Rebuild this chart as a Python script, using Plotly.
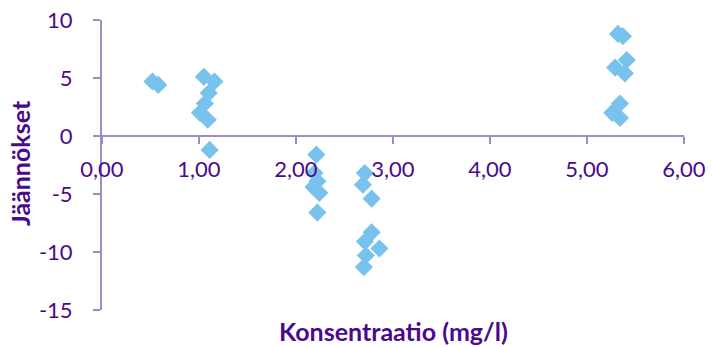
import plotly.graph_objects as go

# Residuals against concentration
konsentraatio = [0.52, 0.58,
                 1.05, 1.16, 1.10, 1.06, 1.01, 1.09, 1.11,
                 2.21, 2.19, 2.22, 2.18, 2.24, 2.22,
                 2.71, 2.69, 2.78, 2.78, 2.71, 2.86, 2.72, 2.70,
                 5.32, 5.37, 5.41, 5.29, 5.39, 5.34, 5.26, 5.34]
jaannokset = [4.7, 4.4,
              5.1, 4.7, 3.7, 2.8, 2.0, 1.4, -1.2,
              -1.6, -3.2, -3.9, -4.4, -4.9, -6.6,
              -3.2, -4.2, -5.4, -8.3, -9.1, -9.7, -10.3, -11.3,
              8.8, 8.6, 6.55, 5.9, 5.4, 2.8, 2.0, 1.55]

x_ticks = [0, 1, 2, 3, 4, 5, 6]
x_ticktext = ["0,00", "1,00", "2,00", "3,00", "4,00", "5,00", "6,00"]
y_ticks = [-15, -10, -5, 0, 5, 10]
y_ticktext = ["-15", "-10", "-5", "0", "5", "10"]

TEXT = "#4B0A8C"
AXIS = "#9C8CBF"
FONT = "Lato, 'Open Sans', sans-serif"

fig = go.Figure(go.Scatter(
    x=konsentraatio, y=jaannokset, mode="markers",
    marker=dict(symbol="diamond", size=14, color="#7AC2EE", line=dict(width=0)),
    hoverinfo="x+y",
))

fig.update_layout(
    width=712, height=347,
    margin=dict(l=102, r=28, t=20, b=37),
    paper_bgcolor="white", plot_bgcolor="white",
    showlegend=False,
    font=dict(family=FONT, color=TEXT, size=22),
    xaxis=dict(
        range=[0, 6], tickvals=x_ticks, ticktext=x_ticktext,
        showgrid=False, zeroline=False, automargin=False,
        showline=True, linecolor=AXIS, linewidth=2,
        ticks="outside", ticklen=7, tickwidth=2, tickcolor=AXIS,
        anchor="free", position=0.6,
        ticklabelstandoff=7,
        tickfont=dict(size=22, color=TEXT),
    ),
    yaxis=dict(
        range=[-15, 10], tickvals=y_ticks, ticktext=y_ticktext,
        showgrid=False, zeroline=False, automargin=False,
        showline=True, linecolor=AXIS, linewidth=2,
        ticks="outside", ticklen=7, tickwidth=2, tickcolor=AXIS,
        ticklabelstandoff=16,
        tickfont=dict(size=22, color=TEXT),
    ),
    annotations=[
        dict(text="<b>Konsentraatio (mg/l)</b>", x=0.50, y=-0.072,
             xref="paper", yref="paper", xanchor="center", yanchor="middle",
             showarrow=False, font=dict(size=25, color=TEXT, family=FONT)),
        dict(text="<b>Jäännökset</b>", x=-0.141, y=0.507, textangle=-90,
             xref="paper", yref="paper", xanchor="center", yanchor="middle",
             showarrow=False, font=dict(size=25, color=TEXT, family=FONT)),
    ],
)

fig.write_html("out.html")
